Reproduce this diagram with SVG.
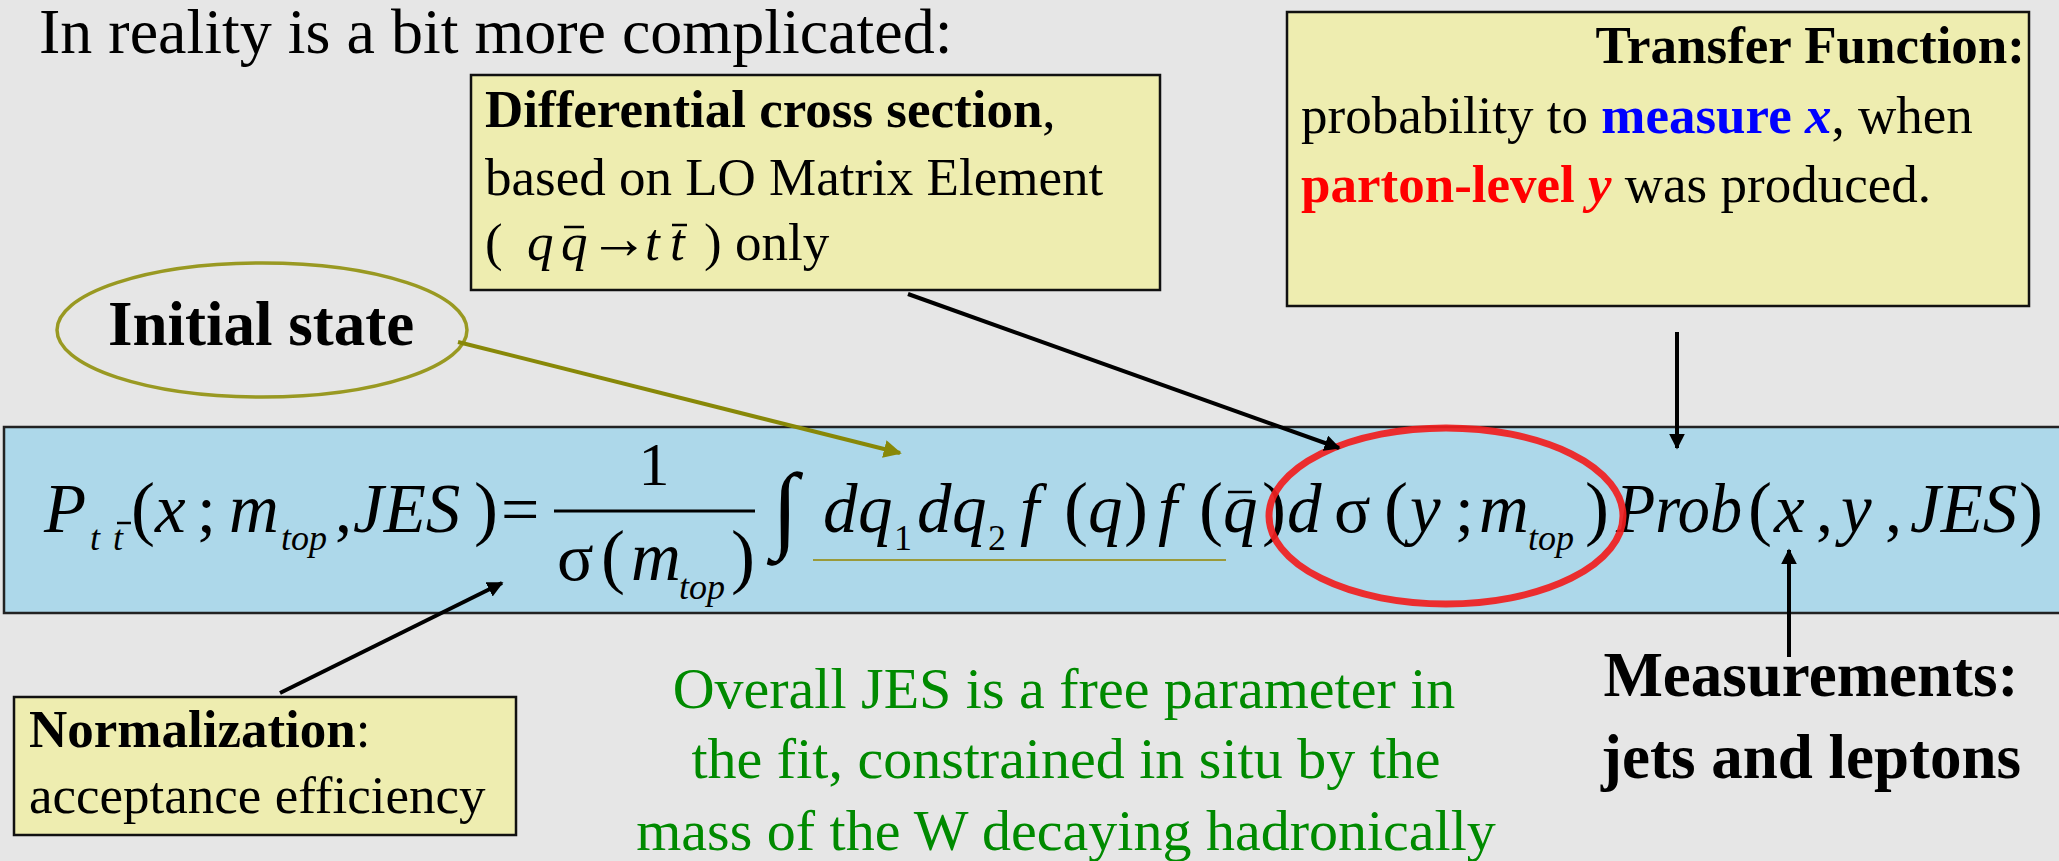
<svg xmlns="http://www.w3.org/2000/svg" width="2059" height="861" viewBox="0 0 2059 861">
<defs>
<style>
text{font-family:"Liberation Serif","Times New Roman","DejaVu Serif",serif;fill:#000}
.box{fill:#eeedb0;stroke:#111;stroke-width:2.5}
.bx{font-size:53px}
.b{font-weight:bold}
.i{font-style:italic}
.m{font-size:69px;font-style:italic}
.r{font-size:68px}
.p{font-size:72px}
.s{font-size:36px;font-style:italic}
.sr{font-size:36px}
.bar{stroke:#000;stroke-width:2.5}
.conn{fill:none;stroke:#000;stroke-width:4}
.g{fill:#008a00;font-size:58px}
</style>
<marker id="ah" viewBox="0 0 10 10" refX="9" refY="5" markerWidth="16" markerHeight="16" markerUnits="userSpaceOnUse" orient="auto"><path d="M0,0 L10,5 L0,10 z" fill="#000"/></marker>
<marker id="aho" viewBox="0 0 10 10" refX="9" refY="5" markerWidth="18" markerHeight="18" markerUnits="userSpaceOnUse" orient="auto"><path d="M0,0 L10,5 L0,10 z" fill="#888808"/></marker>
</defs>
<rect x="0" y="0" width="2059" height="861" fill="#e6e6e6"/>

<g id="title">
<text x="39" y="53" font-size="64">In reality is a bit more complicated:</text>
</g>

<g id="node-formula">
<rect x="4" y="427" width="2060" height="186" fill="#add8ea" stroke="#222" stroke-width="2.5"/>
<text class="m" x="44" y="532">P</text>
<text class="s" x="90" y="550">t</text>
<text class="s" x="113" y="550">t</text>
<line class="bar" x1="117" y1="523" x2="131" y2="523" stroke-width="2"/>
<text class="p" x="131" y="532">(</text>
<text class="m" x="155" y="532">x</text>
<text class="r" x="197" y="532">;</text>
<text class="m" x="229" y="532">m</text>
<text class="s" x="281" y="550">top</text>
<text class="r" x="335" y="532">,</text>
<text class="m" x="353" y="532">JES</text>
<text class="p" x="474" y="532">)</text>
<text class="r" x="501" y="532">=</text>
<text x="654" y="485" font-size="62" text-anchor="middle">1</text>
<rect x="554" y="509.5" width="201" height="3" fill="#000"/>
<text class="r" x="557" y="580">σ</text>
<text class="p" x="601" y="580">(</text>
<text class="m" x="631" y="580">m</text>
<text class="s" x="679" y="599">top</text>
<text class="p" x="731" y="580">)</text>
<text x="772" y="540" font-size="96">∫</text>
<text class="m" x="823" y="532">d</text>
<text class="m" x="858" y="532">q</text>
<text class="sr" x="894" y="550">1</text>
<text class="m" x="917" y="532">d</text>
<text class="m" x="952" y="532">q</text>
<text class="sr" x="988" y="550">2</text>
<text class="m" x="1020" y="532">f</text>
<text class="p" x="1064" y="532">(</text>
<text class="m" x="1088" y="532">q</text>
<text class="p" x="1124" y="532">)</text>
<text class="m" x="1158" y="532">f</text>
<text class="p" x="1199" y="532">(</text>
<text class="m" x="1223" y="532">q</text>
<line class="bar" x1="1228" y1="492" x2="1252" y2="492" stroke-width="3"/>
<text class="p" x="1262" y="532">)</text>
<text class="m" x="1287" y="532">d</text>
<text class="r" x="1334" y="532">σ</text>
<text class="p" x="1384" y="532">(</text>
<text class="m" x="1410" y="532">y</text>
<text class="r" x="1455" y="532">;</text>
<text class="m" x="1479" y="532">m</text>
<text class="s" x="1528" y="550">top</text>
<text class="p" x="1585" y="532">)</text>
<text class="m" x="1616" y="532" textLength="126" lengthAdjust="spacingAndGlyphs">Prob</text>
<text class="p" x="1748" y="532">(</text>
<text class="m" x="1774" y="532">x</text>
<text class="r" x="1816" y="532">,</text>
<text class="m" x="1841" y="532">y</text>
<text class="r" x="1885" y="532">,</text>
<text class="m" x="1910" y="532">JES</text>
<text class="p" x="2019" y="532">)</text>
<line x1="813" y1="560" x2="1226" y2="560" stroke="#9a9a3a" stroke-width="2"/>
<ellipse cx="1446" cy="516" rx="177" ry="88" fill="none" stroke="#f01e1e" stroke-width="7" opacity="0.92"/>
</g>

<g id="node-differential">
<rect class="box" x="471" y="75" width="689" height="215"/>
<text class="bx" x="485" y="127"><tspan class="b">Differential cross section</tspan>,</text>
<text class="bx" x="485" y="195">based on LO Matrix Element</text>
<text class="bx" x="485" y="260">(</text>
<text class="bx i" x="527" y="260">q</text>
<text class="bx i" x="561" y="260">q</text>
<line class="bar" x1="564" y1="227" x2="584" y2="227" stroke-width="2.5"/>
<text x="589" y="258" font-size="60">→</text>
<text class="bx i" x="645" y="260">t</text>
<text class="bx i" x="670" y="260">t</text>
<line class="bar" x1="672" y1="225" x2="687" y2="225" stroke-width="2.5"/>
<text class="bx" x="704" y="260">)</text>
<text class="bx" x="735" y="260">only</text>
</g>

<g id="node-transfer">
<rect class="box" x="1287" y="12" width="742" height="294"/>
<text class="bx b" x="2025" y="63" text-anchor="end">Transfer Function:</text>
<text class="bx" x="1301" y="133">probability to <tspan class="b" fill="#0000ff">measure <tspan class="i">x</tspan></tspan>, when</text>
<text class="bx" x="1301" y="202"><tspan class="b" fill="#ff0000">parton-level <tspan class="i">y</tspan></tspan> was produced.</text>
</g>

<g id="node-initial">
<ellipse cx="262" cy="330" rx="205" ry="67" fill="none" stroke="#999922" stroke-width="3.5"/>
<text class="b" x="108" y="345" font-size="63">Initial state</text>
</g>

<g id="node-normalization">
<rect class="box" x="14" y="697" width="502" height="138"/>
<text class="bx" x="29" y="747"><tspan class="b">Normalization</tspan>:</text>
<text class="bx" x="29" y="813">acceptance efficiency</text>
</g>

<g id="node-measurements">
<text class="b" x="1811" y="696" font-size="63" text-anchor="middle">Measurements:</text>
<text class="b" x="1811" y="778" font-size="63" text-anchor="middle">jets and leptons</text>
</g>

<g id="note-jes">
<text class="g" x="1064" y="708" text-anchor="middle">Overall JES is a free parameter in</text>
<text class="g" x="1066" y="778" text-anchor="middle">the fit, constrained in situ by the</text>
<text class="g" x="1066" y="850" text-anchor="middle">mass of the W decaying hadronically</text>
</g>

<g id="connectors">
<line x1="458" y1="342" x2="900" y2="453" stroke="#888808" stroke-width="4" marker-end="url(#aho)"/>
<line class="conn" x1="908" y1="294" x2="1339" y2="448" stroke-width="3.5" marker-end="url(#ah)"/>
<line class="conn" x1="1677" y1="332" x2="1677" y2="448" marker-end="url(#ah)"/>
<line class="conn" x1="1789" y1="657" x2="1789" y2="550" marker-end="url(#ah)"/>
<line class="conn" x1="280" y1="693" x2="502" y2="583" marker-end="url(#ah)"/>
</g>
</svg>
